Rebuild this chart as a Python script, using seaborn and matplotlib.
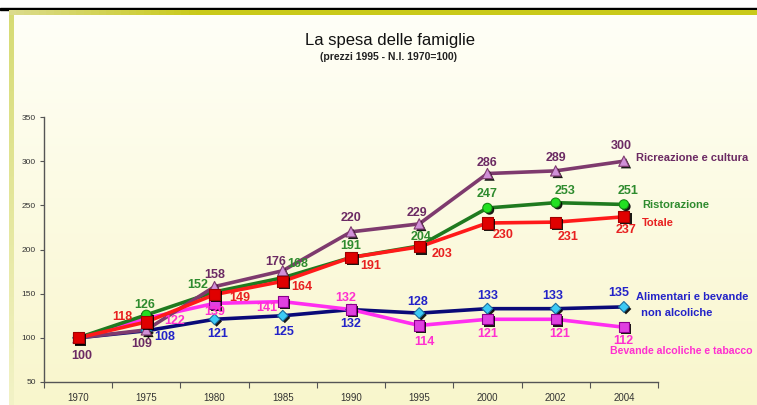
import numpy as np
import pandas as pd
import matplotlib
matplotlib.use("Agg")
import matplotlib.pyplot as plt
import matplotlib.patheffects as pe
import seaborn as sns

years = ["1970", "1975", "1980", "1985", "1990", "1995", "2000", "2002", "2004"]
ricreazione = [100, 109, 158, 176, 220, 229, 286, 289, 300]
ristorazione = [100, 126, 152, 168, 191, 204, 247, 253, 251]
totale = [100, 118, 149, 164, 191, 203, 230, 231, 237]
alimentari = [100, 108, 121, 125, 132, 128, 133, 133, 135]
bevande = [100, 122, 139, 141, 132, 114, 121, 121, 112]
yticks = [50, 100, 150, 200, 250, 300, 350]

series = {
    "Alimentari": alimentari,
    "Bevande": bevande,
    "Ristorazione": ristorazione,
    "Ricreazione": ricreazione,
    "Totale": totale,
}
line_col = {"Alimentari": "#0A0A78", "Bevande": "#FF2EF0", "Ristorazione": "#1F7A1F",
            "Ricreazione": "#7E3A6E", "Totale": "#FF1A1A"}
mk_face = {"Alimentari": "#3CCBF5", "Bevande": "#E040E0", "Ristorazione": "#22E022",
           "Ricreazione": "#D090D8", "Totale": "#E00000"}
mk_edge = {"Alimentari": "#1B6FA0", "Bevande": "#8A008A", "Ristorazione": "#138A13",
           "Ricreazione": "#7E3A6E", "Totale": "#A00000"}
mk_shape = {"Alimentari": "D", "Bevande": "s", "Ristorazione": "o",
            "Ricreazione": "^", "Totale": "s"}
mk_size = {"Alimentari": 30, "Bevande": 55, "Ristorazione": 45, "Ricreazione": 55, "Totale": 65}
lab_col = {"Alimentari": "#2323C8", "Bevande": "#FF30D0", "Ristorazione": "#2E8B2E",
           "Ricreazione": "#6B2A63", "Totale": "#E82020"}

rows = []
for name, vals in series.items():
    for y, v in zip(years, vals):
        rows.append({"anno": y, "valore": v, "serie": name})
df = pd.DataFrame(rows)

sns.set_theme(style="white")
plt.rcParams["font.family"] = ["Liberation Sans", "DejaVu Sans"]

W, H = 757, 405
fig = plt.figure(figsize=(W / 100, H / 100), dpi=100)
fig.patch.set_facecolor("white")

# background gradient
bg = fig.add_axes([0, 0, 1, 1], zorder=-10)
bg.set_axis_off()
bg.set_xlim(0, W)
bg.set_ylim(H, 0)
ny = 200
t = np.linspace(0, 1, ny)[:, None, None]
top = np.array([1.0, 1.0, 0.97])
bot = np.array([0.975, 0.965, 0.80])
img = top * (1 - t) + bot * t
img = np.broadcast_to(img, (ny, 10, 3)).copy()
bg.imshow(img, extent=[9, W, H, 15], aspect="auto", zorder=0)
# left strip
st = np.linspace(0, 1, ny)[:, None, None]
s_top = np.array([0.84, 0.86, 0.45])
s_bot = np.array([0.95, 0.95, 0.78])
simg = np.broadcast_to(s_top * (1 - st) + s_bot * st, (ny, 4, 3)).copy()
bg.imshow(simg, extent=[9, 14, H, 10], aspect="auto", zorder=1)
# top bars
bg.add_patch(plt.Rectangle((0, 8), W, 2.2, color="black", zorder=2))
gx = np.linspace(0, 1, 100)[None, :, None]
g_left = np.array([0.86, 0.86, 0.55])
g_right = np.array([0.79, 0.79, 0.10])
gfac = np.clip(gx * 4, 0, 1)
gimg = g_left * (1 - gfac) + g_right * gfac
bg.imshow(gimg, extent=[9, W, 15, 10], aspect="auto", zorder=2)
bg.set_xlim(0, W)
bg.set_ylim(H, 0)

ax = fig.add_axes([44 / W, 1 - 382 / H, (658 - 44) / W, (382 - 117) / H])
ax.set_facecolor("none")

order = list(series.keys())
sns.lineplot(data=df, x="anno", y="valore", hue="serie", hue_order=order,
             palette=line_col, linewidth=2.6, sort=False, legend=False, ax=ax, zorder=2)
for i, name in enumerate(order):
    sub = df[df.serie == name]
    sns.scatterplot(data=sub, x="anno", y="valore", marker=mk_shape[name],
                    color=mk_face[name], edgecolor=mk_edge[name], linewidth=0.8,
                    s=mk_size[name], legend=False, ax=ax, zorder=3 + i)
    coll = ax.collections[-1]
    coll.set_path_effects([pe.SimplePatchShadow(offset=(1.5, -1.5), shadow_rgbFace="black", alpha=0.9),
                           pe.Normal()])

ax.set_xlim(-0.5, 8.5)
ax.set_ylim(50, 350)
ax.set_yticks(yticks)
ax.set_xlabel("")
ax.set_ylabel("")
for s in ["top", "right"]:
    ax.spines[s].set_visible(False)
for s in ["left", "bottom"]:
    ax.spines[s].set_color("#555555")
    ax.spines[s].set_linewidth(1.0)
ax.tick_params(axis="y", which="both", left=True, length=3, width=0.8, color="#555555",
               labelsize=6, labelcolor="#333333", pad=3)
ax.tick_params(axis="x", which="major", bottom=False, length=0, labelsize=7,
               labelcolor="#333333", pad=8)
ax.set_xticks(np.arange(-0.5, 9, 1), minor=True)
ax.tick_params(axis="x", which="minor", bottom=True, length=4, width=0.8, color="#555555")

offsets = {
    "Ricreazione": [(4, -18), (-5, -14), (0, 12), (-7, 9), (0, 14), (-2, 11), (0, 11), (0, 13), (-3, 15)],
    "Ristorazione": [None, (-2, 10), (-17, 7), (15, 14), (0, 11), (2, 9), (0, 14), (9, 12), (4, 13)],
    "Totale": [None, (-24, 5), (25, -3), (19, -6), (20, -9), (23, -7), (16, -12), (12, -15), (2, -13)],
    "Alimentari": [None, (18, -6), (3, -15), (1, -16), (0, -14), (-2, 11), (0, 13), (-3, 13), (-5, 14)],
    "Bevande": [None, (28, -3), (0, -9), (-16, -6), (-5, 12), (5, -17), (0, -15), (4, -15), (-1, -14)],
}
for name, offs in offsets.items():
    vals = series[name]
    for i, off in enumerate(offs):
        if off is None:
            continue
        ax.annotate(str(vals[i]), xy=(i, vals[i]), xytext=off, textcoords="offset pixels",
                    ha="center", va="center", fontsize=9, fontweight="bold",
                    color=lab_col[name], zorder=20, annotation_clip=False)

# series names (figure pixel coords)
def ftext(x, y, s, c, fs=8):
    fig.text(x / W, 1 - y / H, s, ha="left", va="center", fontsize=fs, fontweight="bold",
             color=c, zorder=30)

ftext(636, 158, "Ricreazione e cultura", lab_col["Ricreazione"])
ftext(642, 205, "Ristorazione", lab_col["Ristorazione"])
ftext(642, 223, "Totale", lab_col["Totale"])
ftext(636, 297, "Alimentari e bevande", lab_col["Alimentari"])
ftext(638, 313, " non alcoliche", lab_col["Alimentari"])
ftext(610, 351, "Bevande alcoliche e tabacco", lab_col["Bevande"], fs=7.6)

fig.text(390 / W, 1 - 40 / H, "La spesa delle famiglie", ha="center", va="center",
         fontsize=12, color="#111111")
fig.text(389 / W, 1 - 57 / H, "(prezzi 1995 - N.I. 1970=100)", ha="center", va="center",
         fontsize=7.5, fontweight="bold", color="#222222")

fig.savefig("out.png", dpi=100)
